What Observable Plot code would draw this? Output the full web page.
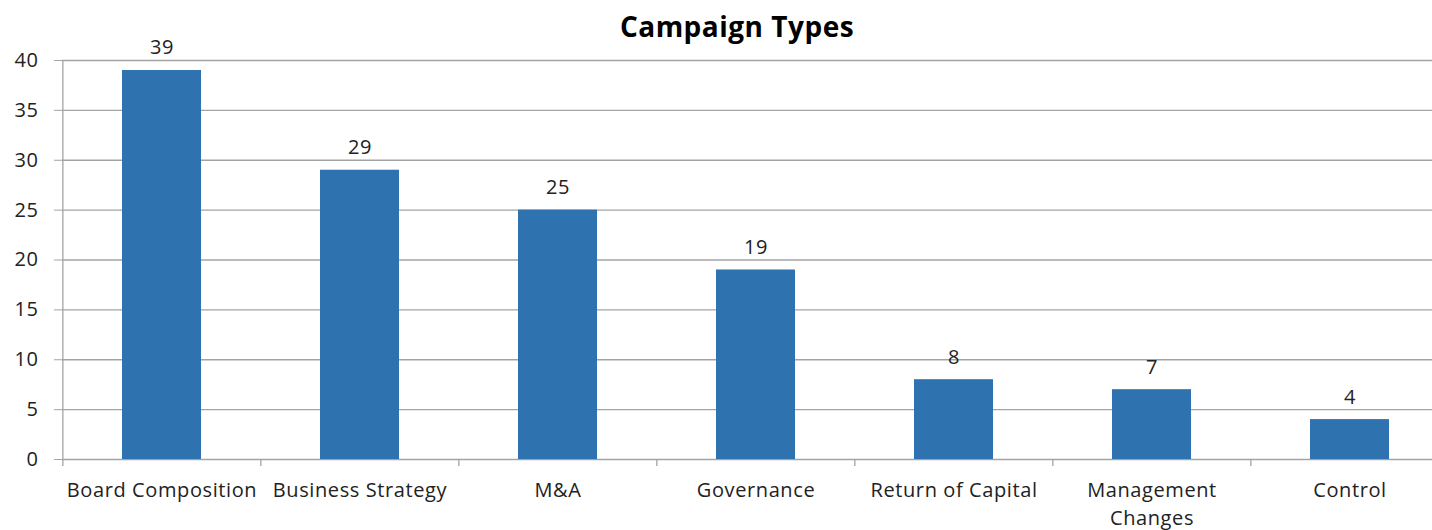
<!DOCTYPE html>
<html>
<head>
<meta charset="utf-8">
<script src="https://cdn.jsdelivr.net/npm/d3@7"></script>
<script src="https://cdn.jsdelivr.net/npm/@observablehq/plot@0.6"></script>
<style>
  html, body { margin: 0; padding: 0; background: #fff; }
  #wrap { position: relative; width: 1432px; height: 530px; overflow: hidden; font-family: "Open Sans", sans-serif; }
  #title { position: absolute; left: 0; width: 1474px; top: 6px; text-align: center; font-weight: bold; font-size: 28px; letter-spacing: 0.5px; color: #000; line-height: 40px; }
  #chart { position: absolute; left: 0; top: 0; }
  #chart svg text { letter-spacing: 0.6px; }
</style>
</head>
<body>
<div id="wrap">
  <div id="chart"></div>
  <div id="title">Campaign Types</div>
</div>
<script>
const categories = ["Board Composition", "Business Strategy", "M&A", "Governance", "Return of Capital", "Management Changes", "Control"];
const counts = [39, 29, 25, 19, 8, 7, 4];
const yTicks = [0, 5, 10, 15, 20, 25, 30, 35, 40];
const labelLines = {"Management Changes": "Management\nChanges"};

const data = categories.map((c, i) => ({category: c, value: counts[i]}));
const xRange = [62, 1450];
const step = (xRange[1] - xRange[0]) / categories.length;
const boundaries = categories.map((c, i) => ({category: c, top: i === 0 ? 40 : 0}));
const gridColor = "#a3a3a3";

const plot = Plot.plot({
  width: 1432,
  height: 530,
  marginTop: 60,
  marginBottom: 71,
  marginLeft: 62,
  marginRight: 0,
  style: {fontFamily: "Open Sans, sans-serif", fontSize: "20px", color: "#222", background: "white"},
  x: {domain: categories, range: xRange, paddingInner: 0.6, paddingOuter: 0.3, axis: null},
  y: {domain: [0, 40], axis: null},
  marks: [
    Plot.ruleY(yTicks, {stroke: gridColor, strokeWidth: 1.3}),
    Plot.axisY({ticks: yTicks, tickSize: 8, tickPadding: 16, stroke: gridColor, fontSize: 20, fill: "#222", label: null}),
    Plot.barY(data, {x: "category", y: "value", fill: "#2e72af"}),
    Plot.ruleX(boundaries, {x: "category", dx: -step / 2, y1: -0.7, y2: "top", stroke: gridColor, strokeWidth: 1.3}),
    Plot.text(data, {x: "category", y: "value", text: d => String(d.value), lineAnchor: "bottom", dy: -16, fontSize: 20, fill: "#222"}),
    Plot.text(categories, {x: d => d, y: () => 0, text: d => labelLines[d] || d, lineAnchor: "top", dy: 18, lineHeight: 1.4, fontSize: 20, fill: "#222"})
  ]
});
document.getElementById("chart").appendChild(plot);
</script>
</body>
</html>
